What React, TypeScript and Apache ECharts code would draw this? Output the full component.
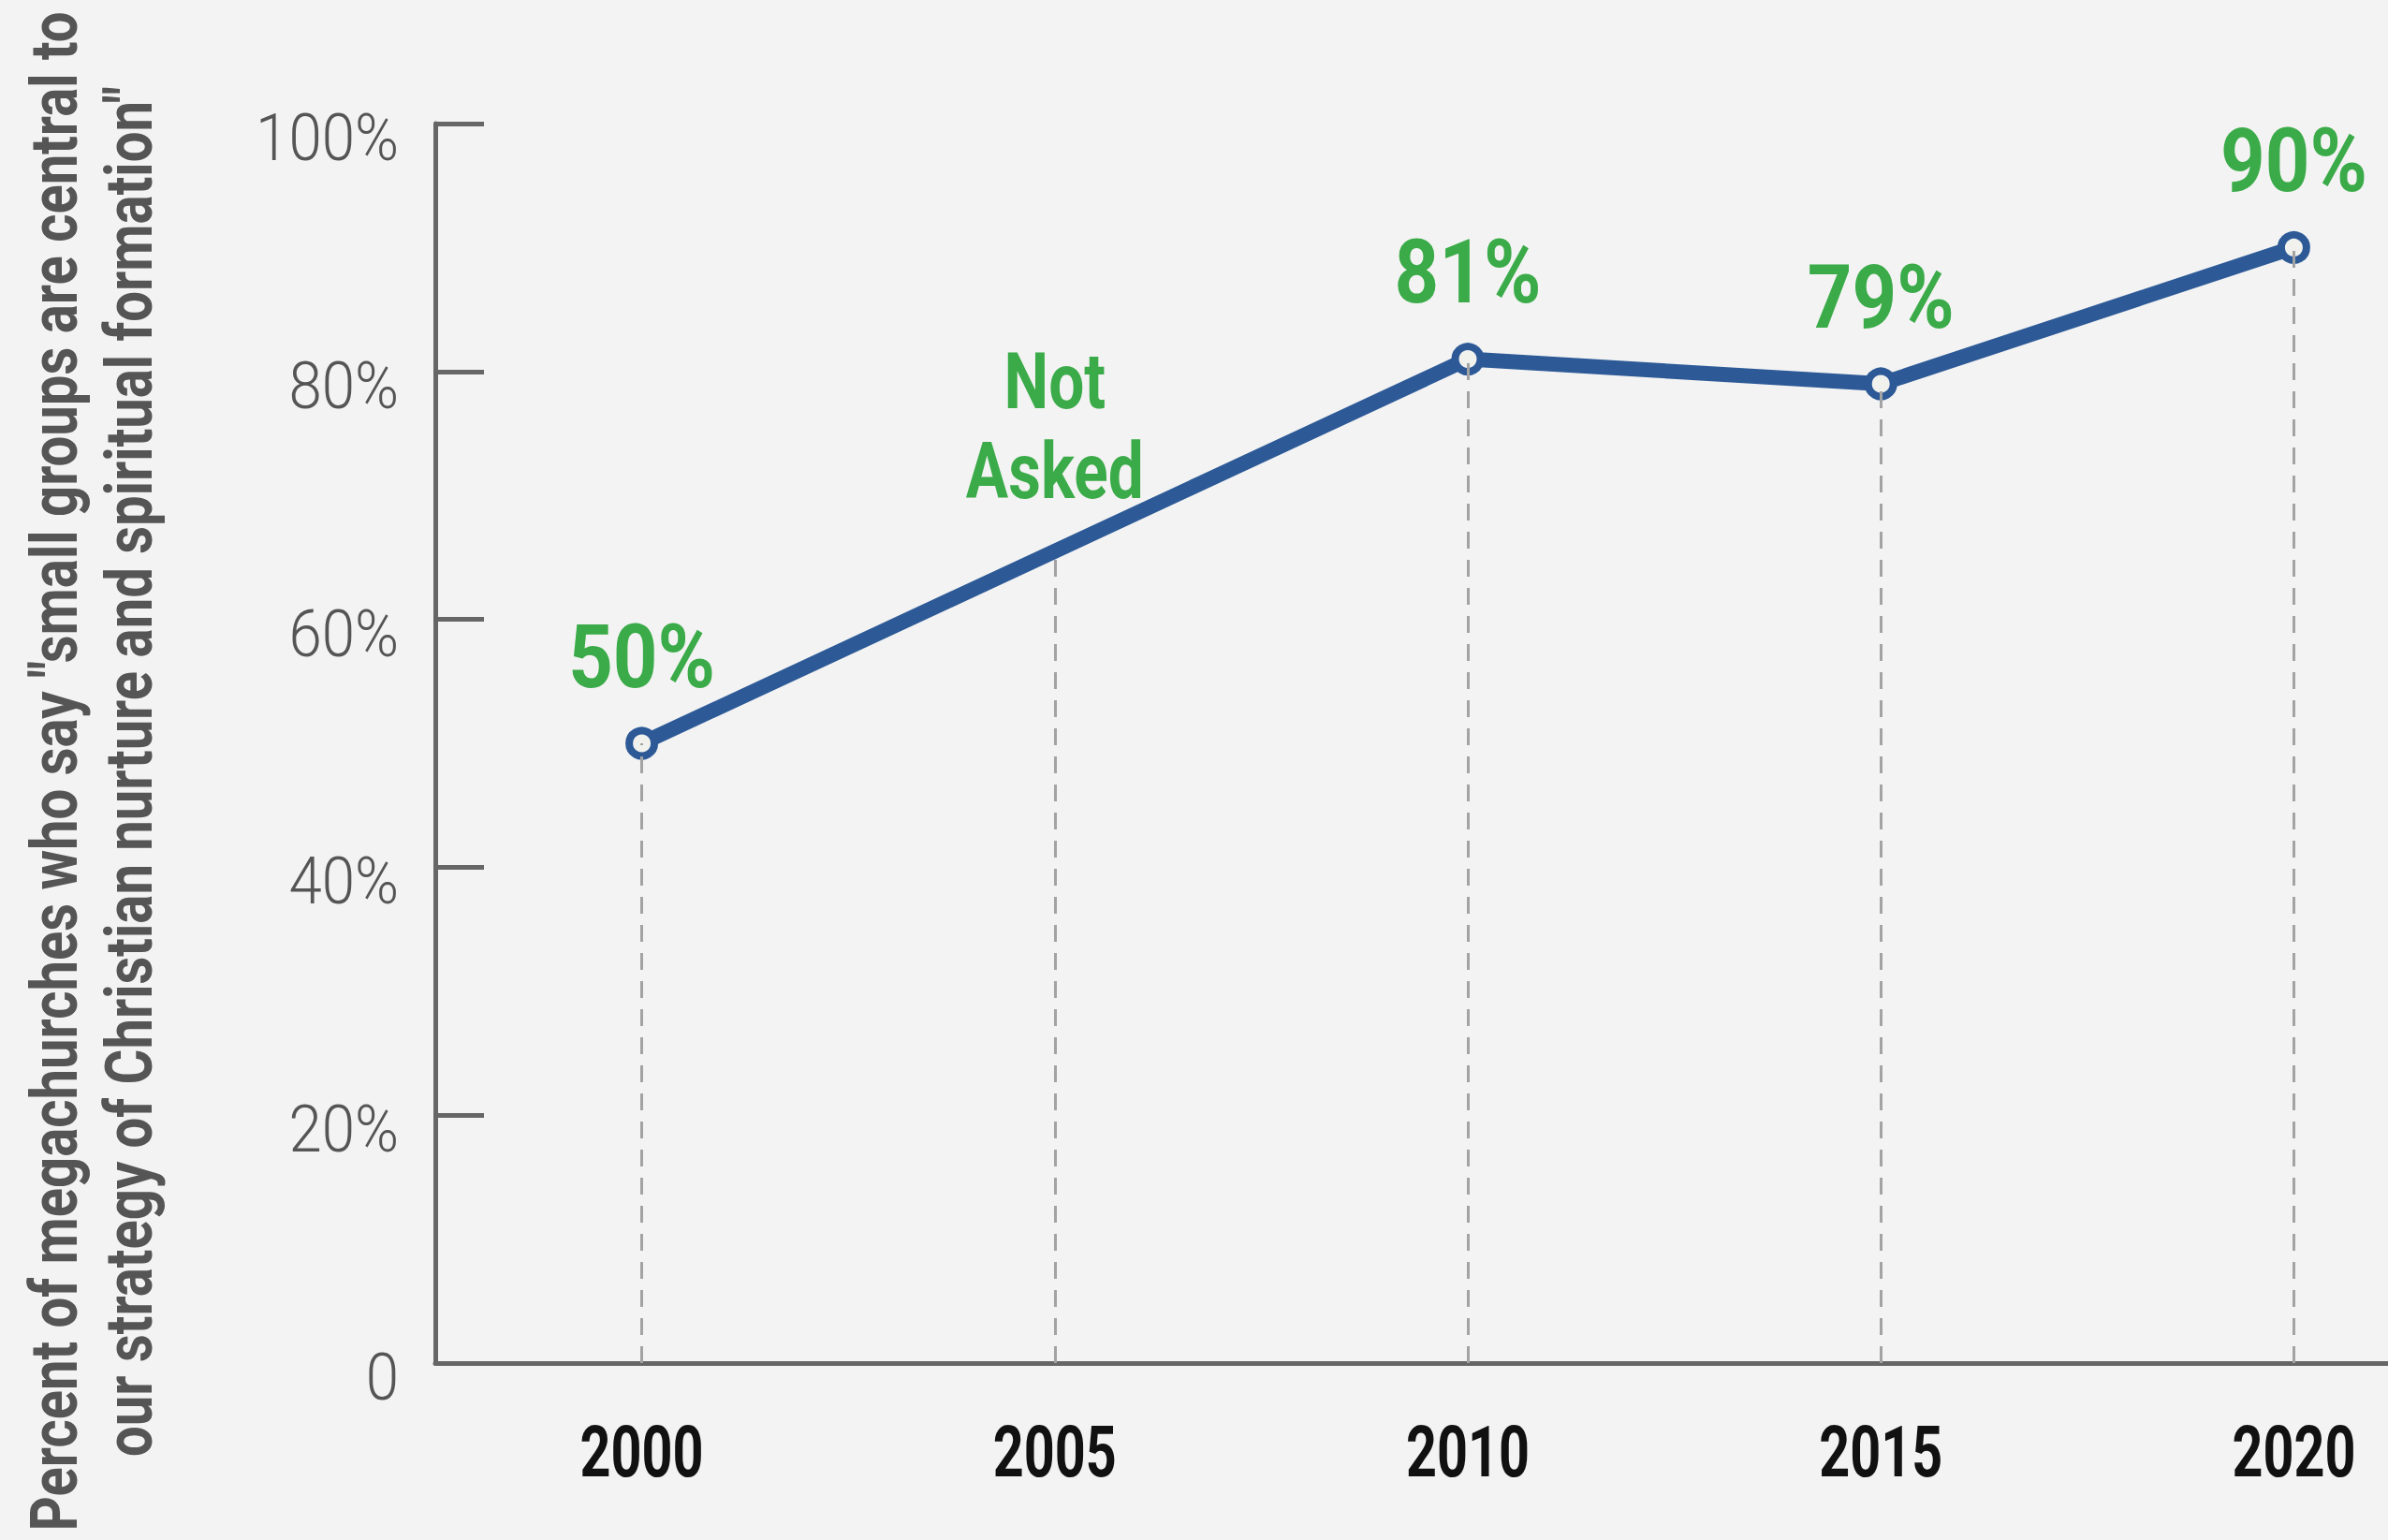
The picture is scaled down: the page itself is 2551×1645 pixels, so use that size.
import React, { useEffect, useRef } from "react";
import * as echarts from "echarts";

const years = ["2000", "2005", "2010", "2015", "2020"];
const shares: (number | null)[] = [50, null, 81, 79, 90];
const pointLabels = ["50%", "Not\nAsked", "81%", "79%", "90%"];
const yTickValues = [0, 20, 40, 60, 80, 100];
const yTickLabels = ["0", "20%", "40%", "60%", "80%", "100%"];
const yAxisTitle = [
  'Percent of megachurches who say "small groups are central to',
  'our strategy of Christian nurture and spiritual formation"',
];

const FONT = 'Roboto, "DejaVu Sans Condensed", sans-serif';
const BLUE = "#2d5a97";
const GREEN = "#3aab48";
const AXIS = "#666666";
const BG = "#f3f3f3";

// horizontal squeeze so the installed sans face reads like the reference's condensed face
function squeeze(sample: string, font: string, refWidth: number): number {
  const ctx = document.createElement("canvas").getContext("2d");
  if (!ctx) return 0.78;
  ctx.font = font;
  const w = ctx.measureText(sample).width;
  return w > 0 ? refWidth / w : 0.78;
}

export default function App() {
  const ref = useRef<HTMLDivElement>(null);
  useEffect(() => {
    if (!ref.current) return;
    document.body.style.overflow = "hidden";
    const chart = echarts.init(ref.current, undefined, { renderer: "svg" });

    // top of each drop guide: the data value, or where the connecting line passes for a missing year
    const guideTop = shares.map((v, i) => {
      if (v != null) return v;
      const p = shares[i - 1];
      const n = shares[i + 1];
      return p != null && n != null ? (p + n) / 2 : 0;
    });

    chart.setOption({
      animation: false,
      backgroundColor: BG,
      grid: { left: 465, top: 132, bottom: 189, right: 0, outerBoundsMode: "none" },
      xAxis: {
        type: "category",
        data: years,
        boundaryGap: true,
        axisLine: { show: true, lineStyle: { color: AXIS, width: 5 } },
        axisTick: { show: false },
        axisLabel: { show: false },
        splitLine: { show: false },
      },
      yAxis: {
        type: "value",
        min: 0,
        max: 100,
        interval: 20,
        axisLine: { show: true, lineStyle: { color: AXIS, width: 5 } },
        axisTick: { show: true, inside: true, length: 52, lineStyle: { color: AXIS, width: 5 } },
        axisLabel: { show: false },
        splitLine: { show: false },
      },
      series: [
        {
          type: "line",
          data: guideTop,
          symbol: "none",
          lineStyle: { opacity: 0 },
          silent: true,
          z: 1,
          markLine: {
            silent: true,
            symbol: ["none", "none"],
            label: { show: false },
            lineStyle: { type: [18, 12], color: "#a3a3a3", width: 3 },
            data: years.map((_, i) => [
              { coord: [i, 0] },
              { coord: [i, guideTop[i]] },
            ]),
          },
        },
        {
          type: "line",
          data: shares,
          connectNulls: true,
          z: 3,
          lineStyle: { color: BLUE, width: 16 },
          symbol: "circle",
          symbolSize: 27,
          itemStyle: { color: "#f1f1ee", borderColor: BLUE, borderWidth: 8 },
          label: { show: false },
        },
      ],
    });

    const xPx = (i: number) => chart.convertToPixel({ xAxisIndex: 0 }, years[i]) as number;
    const yPx = (v: number) => chart.convertToPixel({ yAxisIndex: 0 }, v) as number;
    const y0 = yPx(0);
    const axisX = 465;

    const xFont = `bold 76px ${FONT}`;
    const yFont = `300 70px ${FONT}`;
    const dFont = `bold 94px ${FONT}`;
    const nFont = `bold 84px ${FONT}`;
    const tFont = `bold 70px ${FONT}`;
    const sx = squeeze("2000", xFont, 132);
    const sy = squeeze("100%", yFont, 153);
    const sd = squeeze("90%", dFont, 157);
    const sn = squeeze("Asked", nFont, 190);
    const st = squeeze(yAxisTitle[0], tFont, 1623);

    const graphics: any[] = [];
    years.forEach((yr, i) => {
      graphics.push({
        type: "text",
        x: xPx(i),
        y: y0 + 95,
        scaleX: sx,
        style: { text: yr, font: xFont, fill: "#111111", align: "center", verticalAlign: "middle" },
      });
    });
    yTickValues.forEach((v, i) => {
      graphics.push({
        type: "text",
        x: axisX - 39,
        y: yPx(v) + 15,
        scaleX: sy,
        style: { text: yTickLabels[i], font: yFont, fill: "#555555", align: "right", verticalAlign: "middle" },
      });
    });
    pointLabels.forEach((lab, i) => {
      const missing = shares[i] == null;
      graphics.push({
        type: "text",
        x: xPx(i),
        y: yPx(guideTop[i]) - (missing ? 133 : 92),
        scaleX: missing ? sn : sd,
        z: 10,
        style: {
          text: lab,
          font: missing ? nFont : dFont,
          lineHeight: missing ? 96 : undefined,
          fill: GREEN,
          align: "center",
          verticalAlign: "middle",
        },
      });
    });
    graphics.push({
      type: "text",
      x: 98,
      y: 824,
      rotation: Math.PI / 2,
      scaleX: st,
      style: {
        text: yAxisTitle.join("\n"),
        font: tFont,
        fill: "#555555",
        align: "center",
        verticalAlign: "middle",
        lineHeight: 80,
      },
    });
    chart.setOption({ graphic: graphics });

    return () => chart.dispose();
  }, []);
  return (
    <div
      ref={ref}
      style={{ position: "fixed", left: 0, top: 0, width: 2671, height: 1645, background: BG }}
    />
  );
}
